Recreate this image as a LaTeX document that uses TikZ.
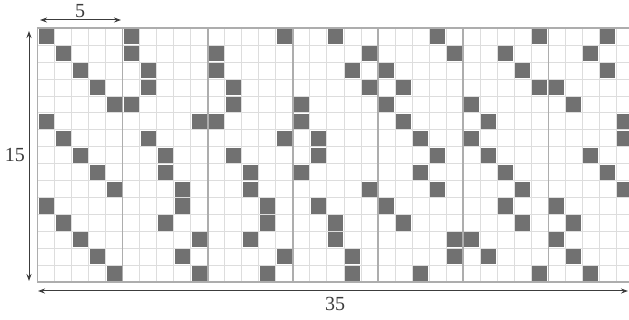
\documentclass[tikz,border=0pt]{standalone}
\usepackage{fontspec}
\setmainfont{Liberation Serif}
\usetikzlibrary{arrows.meta}
\definecolor{thinline}{HTML}{DDDDDD}
\definecolor{majorline}{HTML}{ADADAD}
\definecolor{cellfill}{HTML}{717171}
\definecolor{dimcol}{HTML}{3C3C3C}
\tikzset{
  dimarrow/.style={draw=dimcol, line width=1pt, {Stealth[length=7pt,width=5pt]}-{Stealth[length=7pt,width=5pt]}},
  dimlabel/.style={text=dimcol, font=\fontsize{20}{24}\selectfont, inner sep=0pt},
  minorgrid/.style={draw=thinline, line width=0.9pt},
  majorgrid/.style={draw=majorline, line width=1.4pt},
  borderline/.style={draw=majorline, line width=2pt},
}
\begin{document}
\begin{tikzpicture}[x=1pt,y=-1pt]
\useasboundingbox (0,0) rectangle (629,320);
\def\gx{37.6}
\def\gy{28.3}
\def\cw{17.02}
\def\ch{16.93}
\begin{scope}
\clip (0,0) rectangle (629,320);
% minor grid
\foreach \c in {1,...,34} {
  \draw[minorgrid] (\gx+\c*\cw, \gy) -- (\gx+\c*\cw, \gy+15*\ch);
}
\foreach \r in {1,...,14} {
  \draw[minorgrid] (\gx, \gy+\r*\ch) -- (\gx+35*\cw, \gy+\r*\ch);
}
% filled cells
\foreach \r/\cols in {
  0/{0,5,14,17,23,29,33},
  1/{1,5,10,19,24,27,32},
  2/{2,6,10,18,20,28,33},
  3/{3,6,11,19,21,29,30},
  4/{4,5,11,15,20,25,31},
  5/{0,9,10,15,21,26,34},
  6/{1,6,14,16,22,25,34},
  7/{2,7,11,16,23,26,32},
  8/{3,7,12,15,22,27,33},
  9/{4,8,12,19,23,28,34},
  10/{0,8,13,16,20,27,30},
  11/{1,7,13,17,21,28,31},
  12/{2,9,12,17,24,25,30},
  13/{3,8,14,18,24,26,31},
  14/{4,9,13,18,22,29,32}} {
  \foreach \c in \cols {
    \fill[cellfill] (\gx+\c*\cw+0.9, \gy+\r*\ch+0.9) rectangle (\gx+\c*\cw+\cw-0.9, \gy+\r*\ch+\ch-0.9);
  }
}
% major grid
\foreach \c in {5,10,...,30} {
  \draw[majorgrid] (\gx+\c*\cw, \gy) -- (\gx+\c*\cw, \gy+15*\ch);
}
\draw[majorgrid] (\gx, \gy) -- (\gx, \gy+15*\ch);
\draw[borderline] (\gx-0.7, \gy) -- (\gx+35*\cw, \gy);
\draw[borderline] (\gx-0.7, \gy+15*\ch) -- (\gx+35*\cw, \gy+15*\ch);
\end{scope}
% dimension arrows
\coordinate (topL) at (40,20);
\coordinate (topR) at (121,20);
\coordinate (leftT) at (29,31);
\coordinate (leftB) at (29,281);
\coordinate (botL) at (38,291);
\coordinate (botR) at (628,291);
\draw[dimarrow] (topL) -- (topR);
\draw[dimarrow] (leftT) -- (leftB);
\draw[dimarrow] (botL) -- (botR);
\node[dimlabel] (lab5) at (80,11) {5};
\node[dimlabel] (lab15) at (15,155) {15};
\node[dimlabel] (lab35) at (335,304) {35};
\end{tikzpicture}
\end{document}
